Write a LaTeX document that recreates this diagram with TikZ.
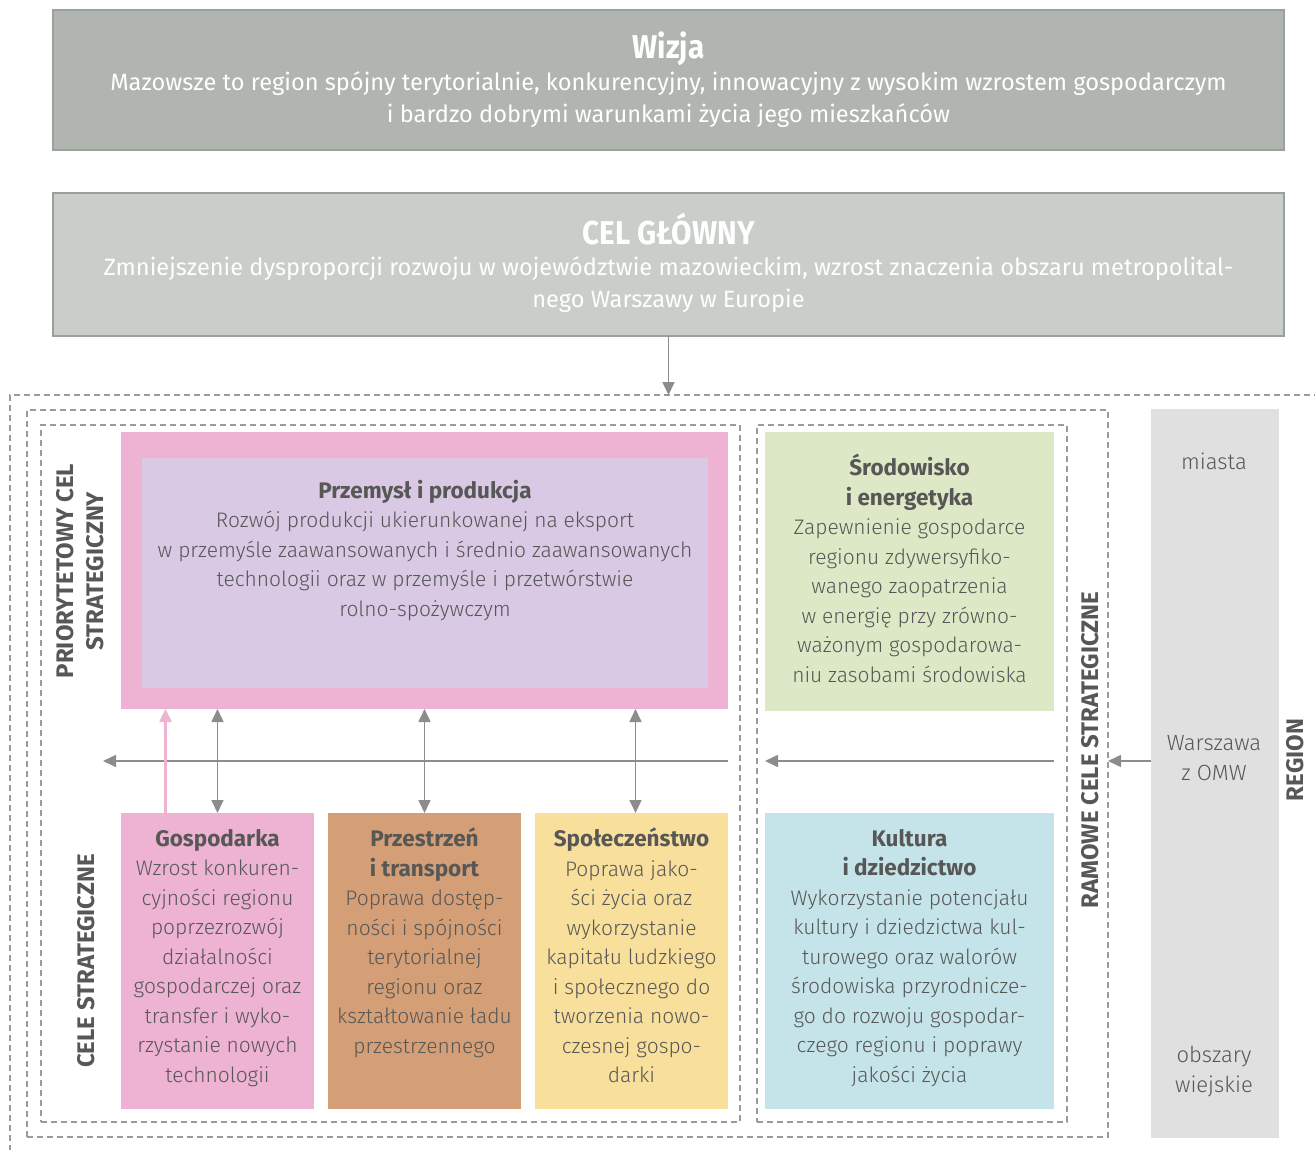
\documentclass[tikz,border=0pt]{standalone}
\usepackage{fontspec}
\setmainfont{Fira Sans}[UprightFont={* Light}, BoldFont={* Bold}]
\newfontfamily\regfont{Fira Sans}
\newfontfamily\condfont{Fira Sans}[FakeStretch=0.9]
\usetikzlibrary{arrows.meta,positioning}

\definecolor{wizjafill}{HTML}{B1B5B0}
\definecolor{wizjaline}{HTML}{9CA09C}
\definecolor{celfill}{HTML}{C9CEC9}
\definecolor{ink}{HTML}{575756}
\definecolor{arrowgray}{HTML}{8C8C8C}
\definecolor{dashgray}{HTML}{9A9A9A}
\definecolor{pinkc}{HTML}{EEB2D3}
\definecolor{lilac}{HTML}{D9C9E4}
\definecolor{greenc}{HTML}{DDE9C6}
\definecolor{brownc}{HTML}{D49F77}
\definecolor{yellowc}{HTML}{F8E09C}
\definecolor{bluec}{HTML}{C5E4E9}
\definecolor{colgray}{HTML}{DFE0DF}

\newcommand\hd[1]{{\bfseries\fontsize{22.5}{29.5}\selectfont\rule{0pt}{18pt}#1}}
\newcommand\hdl[1]{{\bfseries\fontsize{22.5}{29.5}\selectfont#1}}
\newcommand\fl{\rule{0pt}{18pt}}

\tikzset{
  box/.style={anchor=north west, inner sep=0pt, outer sep=0pt},
  dashbox/.style={box, draw=dashgray, line width=1.2pt, dash pattern=on 6pt off 4pt},
  txt/.style={anchor=north, align=center, inner sep=0pt, text=ink, font=\fontsize{21}{29.5}\selectfont},
  toptxt/.style={anchor=north, align=center, inner sep=0pt, text=white, font=\regfont\fontsize{23.6}{32}\selectfont},
  title/.style={anchor=base, inner sep=0pt, text=white, font=\condfont\bfseries\fontsize{33}{33}\selectfont},
  side/.style={rotate=90, align=center, inner sep=0pt, text=ink, font=\regfont\bfseries\fontsize{24}{30}\selectfont},
  coltxt/.style={align=center, inner sep=0pt, text=ink, font=\fontsize{22}{30}\selectfont},
  link/.style={draw=arrowgray, line width=1.6pt, -{Triangle[length=13pt,width=12pt]}},
  dlink/.style={link, {Triangle[length=13pt,width=12pt]}-{Triangle[length=13pt,width=12pt]}},
}

\begin{document}
\begin{tikzpicture}[x=1pt, y=-1pt]
	\useasboundingbox (0,0) rectangle (1315,1150);

	% wizja and cel glowny
	\node[box, fill=wizjafill, draw=wizjaline, line width=1.5pt, minimum width=1231pt, minimum height=140pt] (wizja) at (53,10) {};
	\node[title] (wizja-t) at ([yshift=-49pt]wizja.north) {Wizja};
	\node[toptxt] (wizja-b) at ([yshift=-61pt]wizja.north) {\fl Mazowsze to region spójny terytorialnie, konkurencyjny, innowacyjny z wysokim wzrostem gospodarczym\\i bardzo dobrymi warunkami życia jego mieszkańców};

	\node[box, fill=celfill, draw=wizjaline, line width=1.5pt, minimum width=1231pt, minimum height=143pt] (cel) at (53,193) {};
	\node[title] (cel-t) at ([yshift=-52pt]cel.north) {CEL GŁÓWNY};
	\node[toptxt] (cel-b) at ([yshift=-63pt]cel.north) {\fl Zmniejszenie dysproporcji rozwoju w województwie mazowieckim, wzrost znaczenia obszaru metropolital-\\nego Warszawy w Europie};

	% dashed frames
	\node[dashbox, minimum width=1400pt, minimum height=900pt] (plan) at (10,395) {};
	\node[dashbox, minimum width=1081pt, minimum height=727pt] (cele) at (27,410) {};
	\node[dashbox, minimum width=699pt, minimum height=697pt] (prio) at (41,425) {};
	\node[dashbox, minimum width=310pt, minimum height=697pt] (ramowe) at (757,425) {};

	% priorytetowy cel
	\node[box, fill=pinkc, minimum width=607pt, minimum height=277pt] (przem) at (121,432) {};
	\node[box, fill=lilac, minimum width=566pt, minimum height=230pt] (przem-in) at (142,458) {};
	\node[txt] (przem-t) at ([yshift=-22pt]przem-in.north) {\hd{Przemysł i produkcja}\\Rozwój produkcji ukierunkowanej na eksport\\w przemyśle zaawansowanych i średnio zaawansowanych\\technologii oraz w przemyśle i przetwórstwie\\rolno-spożywczym};

	% ramowe cele
	\node[box, fill=greenc, minimum width=289pt, minimum height=279pt] (sro) at (765,432) {};
	\node[txt] (sro-t) at ([yshift=-22pt]sro.north) {\hd{Środowisko}\\\hdl{i energetyka}\\Zapewnienie gospodarce\\regionu zdywersyfiko-\\wanego zaopatrzenia\\w energię przy zrówno-\\ważonym gospodarowa-\\niu zasobami środowiska};
	\node[box, fill=bluec, minimum width=289pt, minimum height=296pt] (kult) at (765,813) {};
	\node[txt] (kult-t) at ([yshift=-15pt]kult.north) {\hd{Kultura}\\\hdl{i dziedzictwo}\\Wykorzystanie potencjału\\kultury i dziedzictwa kul-\\turowego oraz walorów\\środowiska przyrodnicze-\\go do rozwoju gospodar-\\czego regionu i poprawy\\jakości życia};

	% cele strategiczne
	\node[box, fill=pinkc, minimum width=193pt, minimum height=296pt] (gosp) at (121,813) {};
	\node[txt] (gosp-t) at ([yshift=-15pt]gosp.north) {\hd{Gospodarka}\\Wzrost konkuren-\\cyjności regionu\\poprzezrozwój\\działalności\\gospodarczej oraz\\transfer i wyko-\\rzystanie nowych\\technologii};
	\node[box, fill=brownc, minimum width=193pt, minimum height=296pt] (przes) at (328,813) {};
	\node[txt] (przes-t) at ([yshift=-15pt]przes.north) {\hd{Przestrzeń}\\\hdl{i transport}\\Poprawa dostęp-\\ności i spójności\\terytorialnej\\regionu oraz\\kształtowanie ładu\\przestrzennego};
	\node[box, fill=yellowc, minimum width=193pt, minimum height=296pt] (spol) at (535,813) {};
	\node[txt] (spol-t) at ([yshift=-15pt]spol.north) {\hd{Społeczeństwo}\\Poprawa jako-\\ści życia oraz\\wykorzystanie\\kapitału ludzkiego\\i społecznego do\\tworzenia nowo-\\czesnej gospo-\\darki};

	% region
	\node[box, fill=colgray, minimum width=128pt, minimum height=729pt] (regcol) at (1151,409) {};
	\node[coltxt] (miasta) at (1214,461) {miasta};
	\node[coltxt] (warszawa) at (1214,758) {Warszawa\\z OMW};
	\node[coltxt] (wies) at (1214,1072) {obszary\\wiejskie};

	% side labels
	\node[side] (prio-l) at (80,571) {PRIORYTETOWY CEL\\STRATEGICZNY};
	\node[side] (cele-l) at (86,961) {CELE STRATEGICZNE};
	\node[side] (ramowe-l) at (1090,750) {RAMOWE CELE STRATEGICZNE};
	\node[side] (region-l) at (1295,760) {REGION};

	% arrows
	\coordinate (row) at (0,761);
	\coordinate (rowend) at (103,761);
	\coordinate (pinkfoot) at ([xshift=-52pt]gosp.north);
	\coordinate (spolfoot) at ([xshift=4pt]spol.north);
	\draw[link] (cel.south) -- (cel.south |- plan.north);
	\draw[link] (regcol.west |- row) -- (cele.east |- row);
	\draw[link] (sro.east |- row) -- (sro.west |- row);
	\draw[link] (przem.east |- row) -- (rowend);
	\draw[dlink] (gosp.north) -- (gosp.north |- przem.south);
	\draw[dlink] (przes.north) -- (przes.north |- przem.south);
	\draw[dlink] (spolfoot) -- (spolfoot |- przem.south);
	\draw[link, draw=pinkc, line width=2.5pt] (pinkfoot) -- (pinkfoot |- przem.south);
\end{tikzpicture}
\end{document}
